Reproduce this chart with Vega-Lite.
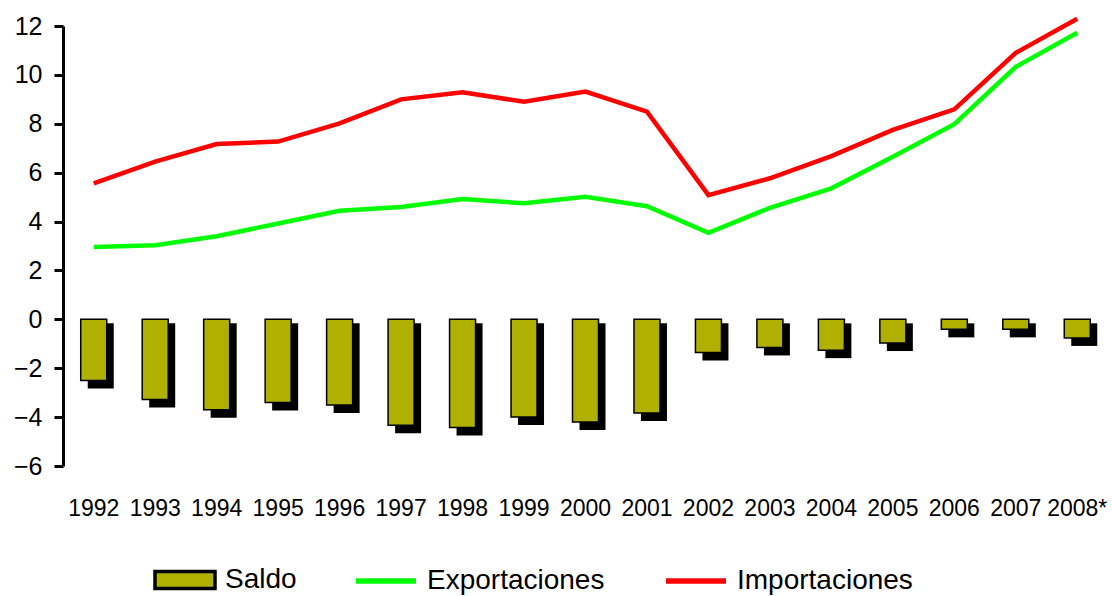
{
  "$schema": "https://vega.github.io/schema/vega-lite/v6.json",
  "autosize": {"type": "none"},
  "padding": {"left": 63, "top": 26, "right": 4, "bottom": 130},
  "width": 1045,
  "height": 440,
  "background": "white",
  "config": {
    "view": {"stroke": null},
    "font": "Liberation Sans",
    "axis": {"grid": false}
  },
  "data": {
    "values": [
      {"anio": "1992", "serie": "Saldo", "valor": -2.5},
      {"anio": "1993", "serie": "Saldo", "valor": -3.28},
      {"anio": "1994", "serie": "Saldo", "valor": -3.7},
      {"anio": "1995", "serie": "Saldo", "valor": -3.4},
      {"anio": "1996", "serie": "Saldo", "valor": -3.5},
      {"anio": "1997", "serie": "Saldo", "valor": -4.33},
      {"anio": "1998", "serie": "Saldo", "valor": -4.43},
      {"anio": "1999", "serie": "Saldo", "valor": -4.0},
      {"anio": "2000", "serie": "Saldo", "valor": -4.2},
      {"anio": "2001", "serie": "Saldo", "valor": -3.83},
      {"anio": "2002", "serie": "Saldo", "valor": -1.36},
      {"anio": "2003", "serie": "Saldo", "valor": -1.15},
      {"anio": "2004", "serie": "Saldo", "valor": -1.26},
      {"anio": "2005", "serie": "Saldo", "valor": -0.97},
      {"anio": "2006", "serie": "Saldo", "valor": -0.41},
      {"anio": "2007", "serie": "Saldo", "valor": -0.41},
      {"anio": "2008*", "serie": "Saldo", "valor": -0.76},
      {"anio": "1992", "serie": "Exportaciones", "valor": 2.96},
      {"anio": "1993", "serie": "Exportaciones", "valor": 3.03},
      {"anio": "1994", "serie": "Exportaciones", "valor": 3.4},
      {"anio": "1995", "serie": "Exportaciones", "valor": 3.92},
      {"anio": "1996", "serie": "Exportaciones", "valor": 4.44},
      {"anio": "1997", "serie": "Exportaciones", "valor": 4.6},
      {"anio": "1998", "serie": "Exportaciones", "valor": 4.92},
      {"anio": "1999", "serie": "Exportaciones", "valor": 4.75},
      {"anio": "2000", "serie": "Exportaciones", "valor": 5.01},
      {"anio": "2001", "serie": "Exportaciones", "valor": 4.63},
      {"anio": "2002", "serie": "Exportaciones", "valor": 3.54},
      {"anio": "2003", "serie": "Exportaciones", "valor": 4.56},
      {"anio": "2004", "serie": "Exportaciones", "valor": 5.36},
      {"anio": "2005", "serie": "Exportaciones", "valor": 6.65},
      {"anio": "2006", "serie": "Exportaciones", "valor": 7.98},
      {"anio": "2007", "serie": "Exportaciones", "valor": 10.33},
      {"anio": "2008*", "serie": "Exportaciones", "valor": 11.72},
      {"anio": "1992", "serie": "Importaciones", "valor": 5.56},
      {"anio": "1993", "serie": "Importaciones", "valor": 6.45},
      {"anio": "1994", "serie": "Importaciones", "valor": 7.17},
      {"anio": "1995", "serie": "Importaciones", "valor": 7.27},
      {"anio": "1996", "serie": "Importaciones", "valor": 8.02},
      {"anio": "1997", "serie": "Importaciones", "valor": 9.0},
      {"anio": "1998", "serie": "Importaciones", "valor": 9.29},
      {"anio": "1999", "serie": "Importaciones", "valor": 8.9},
      {"anio": "2000", "serie": "Importaciones", "valor": 9.32},
      {"anio": "2001", "serie": "Importaciones", "valor": 8.5},
      {"anio": "2002", "serie": "Importaciones", "valor": 5.08},
      {"anio": "2003", "serie": "Importaciones", "valor": 5.77},
      {"anio": "2004", "serie": "Importaciones", "valor": 6.68},
      {"anio": "2005", "serie": "Importaciones", "valor": 7.75},
      {"anio": "2006", "serie": "Importaciones", "valor": 8.59},
      {"anio": "2007", "serie": "Importaciones", "valor": 10.9},
      {"anio": "2008*", "serie": "Importaciones", "valor": 12.3}
    ]
  },
  "encoding": {
    "x": {
      "field": "anio",
      "type": "nominal",
      "scale": {
        "domain": ["1992","1993","1994","1995","1996","1997","1998","1999","2000","2001","2002","2003","2004","2005","2006","2007","2008*"],
        "paddingInner": 0.577,
        "paddingOuter": 0.2885
      },
      "axis": {
        "title": null,
        "domain": false,
        "ticks": false,
        "labelAngle": 0,
        "labelFont": "Liberation Sans",
        "labelFontSize": 23,
        "labelColor": "black",
        "labelPadding": 31
      }
    }
  },
  "layer": [
    {
      "transform": [{"filter": "datum.serie === 'Saldo'"}],
      "mark": {"type": "bar", "color": "black", "xOffset": 7, "yOffset": 8, "y2Offset": 4},
      "encoding": {
        "y": {
          "field": "valor",
          "type": "quantitative",
          "scale": {"domain": [-6, 12], "nice": false, "zero": false},
          "axis": {
            "title": null,
            "values": [-6, -4, -2, 0, 2, 4, 6, 8, 10, 12],
            "domainColor": "black",
            "domainWidth": 3,
            "tickColor": "black",
            "tickWidth": 3,
            "tickSize": 9,
            "labelFont": "Liberation Sans",
            "labelFontSize": 25,
            "labelColor": "black",
            "labelPadding": 12
          }
        },
        "y2": {"datum": 0}
      }
    },
    {
      "transform": [{"filter": "datum.serie === 'Saldo'"}],
      "mark": {"type": "bar", "stroke": "black", "strokeWidth": 1.5, "opacity": 1},
      "encoding": {
        "y": {"field": "valor", "type": "quantitative"},
        "y2": {"datum": 0},
        "fill": {
          "field": "serie",
          "type": "nominal",
          "scale": {"domain": ["Saldo"], "range": ["#B0B000"]},
          "legend": {
            "title": null,
            "orient": "none",
            "legendX": 90,
            "legendY": 522,
            "direction": "horizontal",
            "padding": 0,
            "symbolSize": 3600,
            "symbolType": "M-1,-0.28H1V0.28H-1Z",
            "symbolStrokeColor": "black",
            "symbolStrokeWidth": 3.5,
            "symbolOpacity": 1,
            "labelFont": "Liberation Sans",
            "labelFontSize": 28,
            "labelLimit": 400,
            "labelColor": "black",
            "labelOffset": 8
          }
        }
      }
    },
    {
      "transform": [{"filter": "datum.serie !== 'Saldo'"}],
      "mark": {"type": "line", "strokeWidth": 4.5},
      "encoding": {
        "y": {"field": "valor", "type": "quantitative"},
        "stroke": {
          "field": "serie",
          "type": "nominal",
          "scale": {"domain": ["Exportaciones", "Importaciones"], "range": ["#00FF00", "#FF0000"]},
          "legend": {
            "title": null,
            "orient": "none",
            "legendX": 290,
            "legendY": 522,
            "direction": "horizontal",
            "padding": 0,
            "symbolSize": 3600,
            "symbolType": "stroke",
            "symbolStrokeWidth": 5.5,
            "labelFont": "Liberation Sans",
            "labelFontSize": 28,
            "labelLimit": 400,
            "labelColor": "black",
            "labelOffset": 8,
            "columnPadding": 50
          }
        },
        "detail": {"field": "serie"}
      }
    },
    {
      "data": {"values": [{"cero": 0}]},
      "mark": {"type": "rule", "color": "black", "strokeWidth": 2.5},
      "encoding": {
        "y": {"field": "cero", "type": "quantitative"},
        "x": {"datum": null}
      }
    }
  ]
}
